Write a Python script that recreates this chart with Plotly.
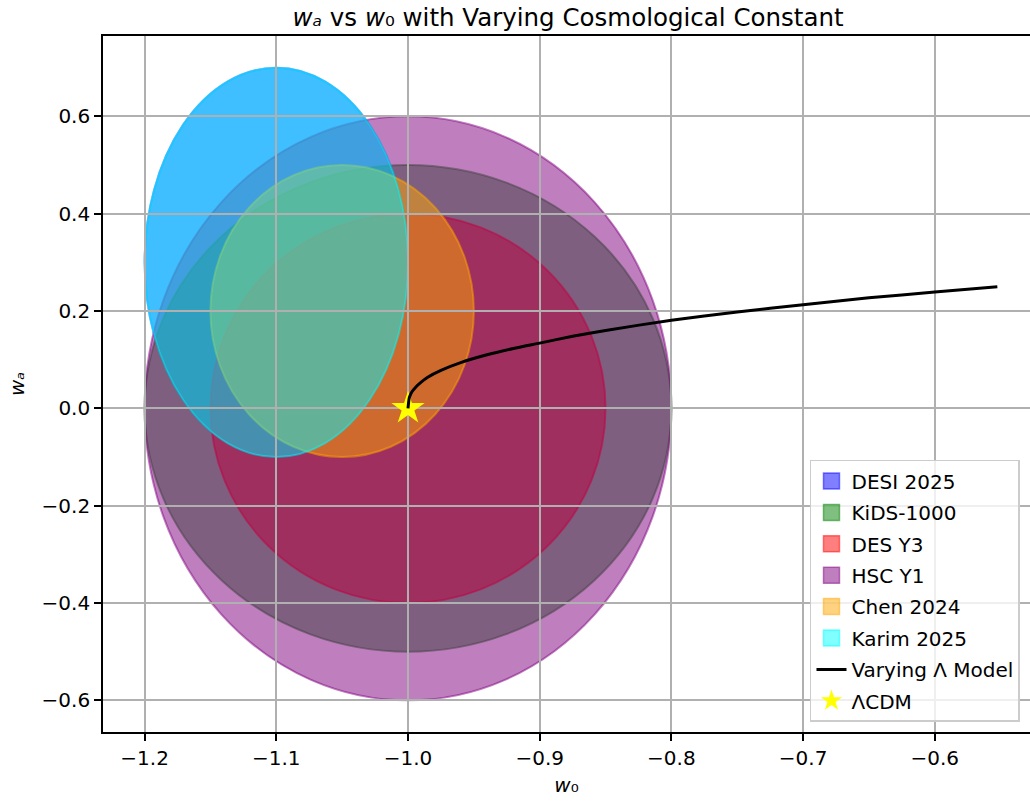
import plotly.graph_objects as go

# ---------------- data ----------------
survey_names = ["DESI 2025", "KiDS-1000", "DES Y3", "HSC Y1", "Chen 2024", "Karim 2025"]
center_w0 = [-1.10, -1.00, -1.00, -1.00, -1.05, -1.10]
center_wa = [0.30, 0.00, 0.00, 0.00, 0.20, 0.30]
width_w0 = [0.20, 0.40, 0.30, 0.40, 0.20, 0.20]
height_wa = [0.80, 1.00, 0.80, 1.20, 0.60, 0.80]
survey_rgb = [(0, 0, 255), (0, 128, 0), (255, 0, 0), (128, 0, 128), (255, 165, 0), (0, 255, 255)]

model_w0 = [-1.000, -0.999, -0.997, -0.994, -0.990, -0.985, -0.975, -0.960, -0.940,
            -0.920, -0.900, -0.875, -0.850, -0.800, -0.750, -0.700, -0.650, -0.600, -0.5525]
model_wa = [0.000, 0.022, 0.034, 0.044, 0.054, 0.064, 0.078, 0.094, 0.110,
            0.123, 0.134, 0.148, 0.160, 0.181, 0.198, 0.213, 0.227, 0.239, 0.250]

lcdm_w0 = [-1.0]
lcdm_wa = [0.0]

x_tickvals = [-1.2, -1.1, -1.0, -0.9, -0.8, -0.7, -0.6]
x_ticktext = ["\u22121.2", "\u22121.1", "\u22121.0", "\u22120.9", "\u22120.8", "\u22120.7", "\u22120.6"]
y_tickvals = [-0.6, -0.4, -0.2, 0.0, 0.2, 0.4, 0.6]
y_ticktext = ["\u22120.6", "\u22120.4", "\u22120.2", "0.0", "0.2", "0.4", "0.6"]

FONT = "DejaVu Sans"
W_A = "<i>w\u2090</i>"      # w with subscript a (italic)
W_0 = "<i>w</i>\u2080"      # w with subscript 0


def rgba(rgb, a):
    return "rgba(%d,%d,%d,%g)" % (rgb[0], rgb[1], rgb[2], a)


fig = go.Figure()

# ellipses as data-referenced shapes (below grid lines, like matplotlib patches)
shapes = []
for cx, cy, w, h, c in zip(center_w0, center_wa, width_w0, height_wa, survey_rgb):
    shapes.append(dict(
        type="circle", xref="x", yref="y",
        x0=cx - w / 2, x1=cx + w / 2, y0=cy - h / 2, y1=cy + h / 2,
        fillcolor=rgba(c, 0.5), line=dict(color=rgba(c, 0.5), width=2),
        layer="below",
    ))

# legend entries for the ellipses
for i, (name, c) in enumerate(zip(survey_names, survey_rgb)):
    fig.add_trace(go.Scatter(
        x=[None], y=[None], mode="markers", name=name, legendgroup=name,
        legendrank=i + 1,
        marker=dict(symbol="square", size=16, color=rgba(c, 0.5),
                    line=dict(color=rgba(c, 0.5), width=1.5)),
        hoverinfo="skip",
    ))

# LCDM star
fig.add_trace(go.Scatter(
    x=lcdm_w0, y=lcdm_wa, mode="markers", name="\u039bCDM", legendgroup="lcdm",
    legendrank=8,
    marker=dict(symbol="star", size=25, color="yellow", line=dict(width=0)),
))

# Varying Lambda model curve
fig.add_trace(go.Scatter(
    x=model_w0, y=model_wa, mode="lines", name="Varying \u039b Model", legendgroup="model",
    legendrank=7,
    line=dict(color="black", width=3, shape="spline", smoothing=0.6),
))

fig.update_layout(
    width=1030, height=803,
    margin=dict(l=103, r=0, t=36, b=71, autoexpand=False),
    paper_bgcolor="white", plot_bgcolor="white",
    font=dict(family=FONT, size=20, color="black"),
    shapes=shapes,
    title=dict(
        text=W_A + " vs " + W_0 + " with Varying Cosmological Constant",
        x=568 / 1030, xref="container", xanchor="center",
        y=1 - 17 / 803, yref="container", yanchor="middle",
        font=dict(family=FONT, size=24.5, color="black"),
        automargin=False,
    ),
    xaxis=dict(
        range=[-1.2316, -0.5277], tickvals=x_tickvals, ticktext=x_ticktext,
        showgrid=True, gridcolor="#b0b0b0", gridwidth=1.6, zeroline=False,
        showline=True, linecolor="black", linewidth=1.6, mirror=True,
        ticks="outside", ticklen=7, tickwidth=1.6, tickcolor="black",
        tickfont=dict(family=FONT, size=20, color="black"),
        automargin=False,
        title=dict(text=W_0, font=dict(family=FONT, size=20), standoff=9),
    ),
    yaxis=dict(
        range=[-0.665, 0.765], tickvals=y_tickvals, ticktext=y_ticktext,
        showgrid=True, gridcolor="#b0b0b0", gridwidth=1.6, zeroline=False,
        showline=True, linecolor="black", linewidth=1.6, mirror=False,
        ticks="outside", ticklen=7, tickwidth=1.6, tickcolor="black",
        tickfont=dict(family=FONT, size=20, color="black"),
        automargin=False,
        title=dict(text=W_A, font=dict(family=FONT, size=20), standoff=12),
    ),
    legend=dict(
        x=0.9892, xanchor="right", y=0.0144, yanchor="bottom",
        bgcolor="rgba(255,255,255,0.8)", bordercolor="#cccccc", borderwidth=1.5,
        font=dict(family=FONT, size=20, color="black"),
        tracegroupgap=2.4, itemwidth=30,
    ),
    showlegend=True,
)

# the page's default 8px body margin would shift the 1030x803 figure out of the window
fig.write_html("out.html", config={"displayModeBar": False},
               post_script="document.body.style.margin='0px';")
